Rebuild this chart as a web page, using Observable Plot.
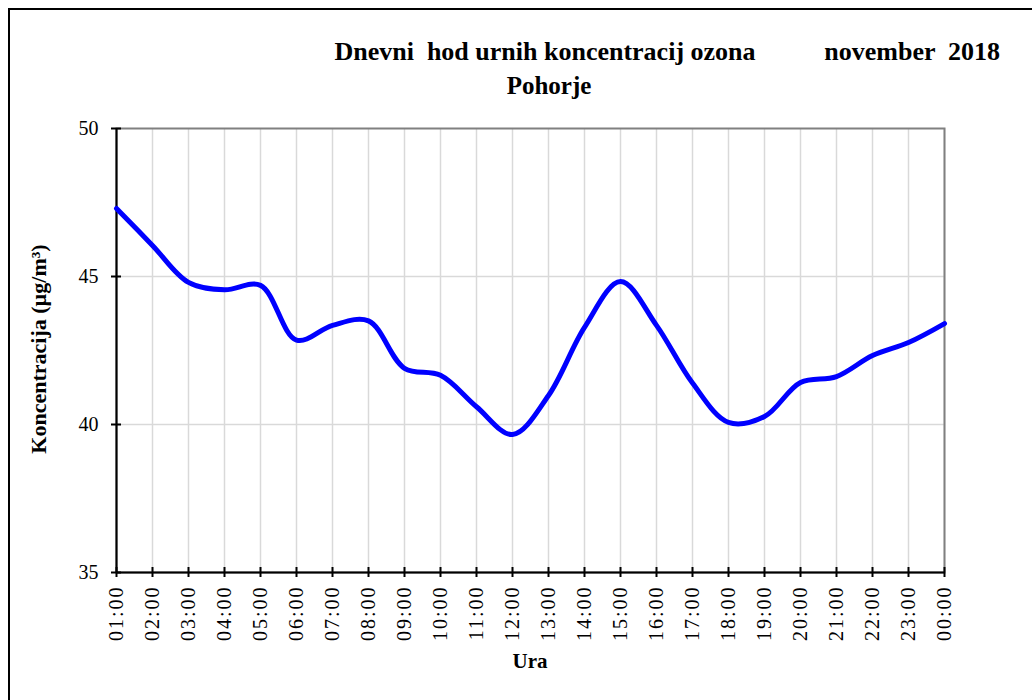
<!DOCTYPE html>
<html>
<head>
<meta charset="utf-8">
<script src="https://cdn.jsdelivr.net/npm/d3@7"></script>
<script src="https://cdn.jsdelivr.net/npm/@observablehq/plot@0.6"></script>
<style>
  html, body { margin: 0; padding: 0; background: white; }
  #chart { width: 1032px; height: 700px; }
  .xt text { letter-spacing: 2px; }
</style>
</head>
<body>
<div id="chart"></div>
<script>
const hours = ["01:00","02:00","03:00","04:00","05:00","06:00","07:00","08:00","09:00","10:00","11:00","12:00",
               "13:00","14:00","15:00","16:00","17:00","18:00","19:00","20:00","21:00","22:00","23:00","00:00"];
const ozone = [47.3, 46.05, 44.8, 44.55, 44.7, 42.85, 43.35, 43.5, 41.9, 41.66, 40.6, 39.66,
               40.98, 43.28, 44.83, 43.35, 41.4, 40.07, 40.27, 41.42, 41.62, 42.33, 42.77, 43.41];
const yTicks = [35, 40, 45, 50];
const gridY = [40, 45];
const titleMain = "Dnevni  hod urnih koncentracij ozona";
const titleDate = "november  2018";
const titleStation = "Pohorje";
const yLabel = "Koncentracija (µg/m³)";
const xLabel = "Ura";

const data = hours.map((h, i) => ({hour: h, value: ozone[i]}));

const chart = Plot.plot({
  width: 1032,
  height: 700,
  marginLeft: 116,
  marginRight: 88,
  marginTop: 128,
  marginBottom: 128,
  style: {fontFamily: "'Liberation Serif', serif", fontSize: "20px", color: "black", background: "white"},
  x: {type: "point", domain: hours, padding: 0},
  y: {domain: [35, 50]},
  marks: [
    Plot.ruleX(hours, {stroke: "#d9d9d9", strokeWidth: 1.5}),
    Plot.ruleY(gridY, {stroke: "#d9d9d9", strokeWidth: 1.5}),
    Plot.frame({stroke: "#808080", strokeWidth: 2}),
    Plot.axisY({ticks: yTicks, tickSize: 10, dx: 5, tickPadding: 13, label: null, strokeWidth: 2, strokeOpacity: 1}),
    Plot.axisX({tickSize: 10, dy: -5, tickPadding: 8, tickRotate: -90, label: null, strokeWidth: 2, strokeOpacity: 1, className: "xt"}),
    Plot.ruleX([hours[0]], {stroke: "black", strokeWidth: 2}),
    Plot.ruleY([35], {stroke: "black", strokeWidth: 2}),
    Plot.line(data, {x: "hour", y: "value", curve: "catmull-rom", stroke: "#0000ff", strokeWidth: 5})
  ]
});

document.getElementById("chart").appendChild(chart);

const svg = d3.select(chart);
svg.append("rect")
  .attr("x", 9).attr("y", 9).attr("width", 1200).attr("height", 1000)
  .attr("fill", "none").attr("stroke", "black").attr("stroke-width", 2);

const tg = svg.append("g")
  .style("font-family", "'Liberation Serif', 'Times New Roman', serif")
  .style("font-weight", "bold").style("fill", "black");
tg.append("text").attr("x", 545).attr("y", 60).attr("text-anchor", "middle").style("font-size", "26px")
  .style("white-space", "pre").text(titleMain);
tg.append("text").attr("x", 1000).attr("y", 60).attr("text-anchor", "end").style("font-size", "26px")
  .style("white-space", "pre").text(titleDate);
tg.append("text").attr("x", 549).attr("y", 94).attr("text-anchor", "middle").style("font-size", "25px")
  .text(titleStation);
tg.append("text").attr("transform", "translate(46,349) rotate(-90)").attr("text-anchor", "middle").style("font-size", "22px")
  .text(yLabel);
tg.append("text").attr("x", 530).attr("y", 668).attr("text-anchor", "middle").style("font-size", "21px")
  .text(xLabel);
</script>
</body>
</html>
